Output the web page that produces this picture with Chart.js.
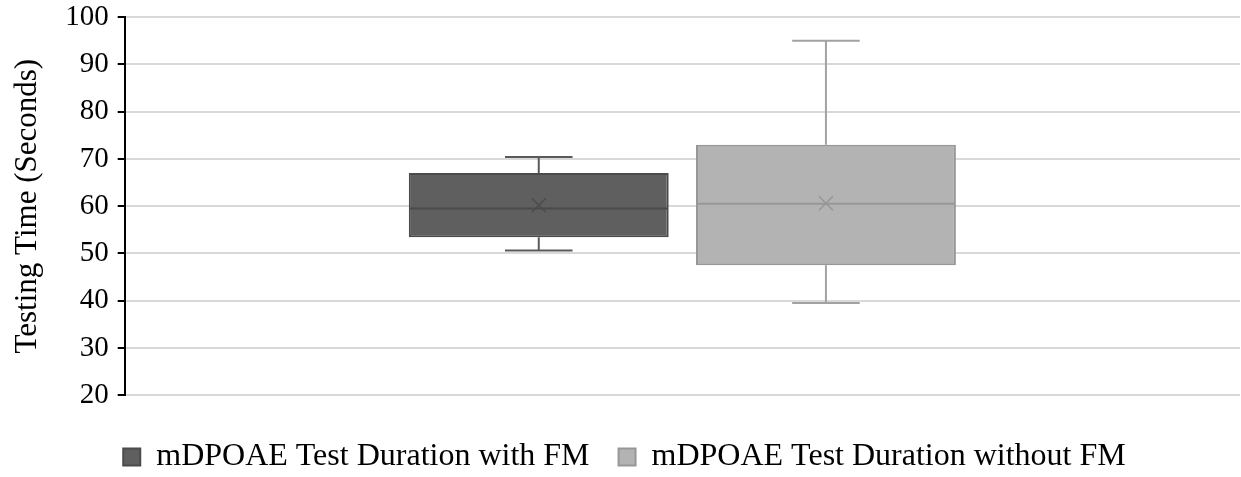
<!DOCTYPE html>
<html>
<head>
<meta charset="utf-8">
<script src="https://cdn.jsdelivr.net/npm/chart.js@4.4.1/dist/chart.umd.min.js"></script>
<style>
  html, body { margin: 0; padding: 0; background: #fff; }
  #wrap { width: 1241px; height: 477px; }
</style>
</head>
<body>
<div id="wrap"><canvas id="chart"></canvas></div>
<script>
// values
const seriesNames = ["mDPOAE Test Duration with FM", "mDPOAE Test Duration without FM"];
const minValues = [50.6, 39.5];
const q1Values = [53.4, 47.5];
const medianValues = [59.5, 60.5];
const q3Values = [67.0, 73.0];
const maxValues = [70.4, 95.0];
const meanValues = [60.2, 60.6];
const yTicks = [20, 30, 40, 50, 60, 70, 80, 90, 100];

const fillColors = ["#5f5f5f", "#b3b3b3"];
const edgeColors = ["#4b4b4b", "#979797"];
const whiskerColors = ["#5a5a5a", "#a2a2a2"];

const serif = "'Liberation Serif', 'Times New Roman', serif";

// whiskers, median and mean marker on top of the floating bars
const boxPlotExtras = {
    id: "boxPlotExtras",
    afterDatasetsDraw(chart) {
        const ctx = chart.ctx;
        const y = chart.scales.y;
        chart.data.datasets.forEach(function(ds, i) {
            const bar = chart.getDatasetMeta(i).data[0];
            if (!bar) return;
            const cx = bar.x;
            const half = bar.width / 2;
            const cap = bar.width * 0.13;
            const yMin = y.getPixelForValue(minValues[i]);
            const yMax = y.getPixelForValue(maxValues[i]);
            const yQ1 = y.getPixelForValue(q1Values[i]);
            const yQ3 = y.getPixelForValue(q3Values[i]);
            const yMed = y.getPixelForValue(medianValues[i]);
            const yMean = y.getPixelForValue(meanValues[i]);

            ctx.save();
            ctx.lineWidth = 2;
            ctx.strokeStyle = whiskerColors[i];
            ctx.beginPath();
            ctx.moveTo(cx, yQ3); ctx.lineTo(cx, yMax);
            ctx.moveTo(cx - cap, yMax); ctx.lineTo(cx + cap, yMax);
            ctx.moveTo(cx, yQ1); ctx.lineTo(cx, yMin);
            ctx.moveTo(cx - cap, yMin); ctx.lineTo(cx + cap, yMin);
            ctx.stroke();

            ctx.strokeStyle = edgeColors[i];
            ctx.beginPath();
            ctx.moveTo(cx - half + 1, yMed); ctx.lineTo(cx + half - 1, yMed);
            ctx.stroke();

            const m = 7;
            ctx.lineWidth = 1.5;
            ctx.beginPath();
            ctx.moveTo(cx - m, yMean - m); ctx.lineTo(cx + m, yMean + m);
            ctx.moveTo(cx - m, yMean + m); ctx.lineTo(cx + m, yMean - m);
            ctx.stroke();
            ctx.restore();
        });
    }
};

const datasets = seriesNames.map(function(name, i) {
    return {
        label: name,
        data: [[q1Values[i], q3Values[i]]],
        backgroundColor: fillColors[i],
        borderColor: edgeColors[i],
        borderWidth: 2,
        borderSkipped: false,
        categoryPercentage: 0.515,
        barPercentage: 0.905
    };
});

new Chart(document.getElementById("chart"), {
    type: "bar",
    data: { labels: [""], datasets: datasets },
    plugins: [boxPlotExtras],
    options: {
        responsive: true,
        maintainAspectRatio: false,
        animation: false,
        layout: { padding: { top: 0, right: 1, left: 9, bottom: -6 } },
        plugins: {
            tooltip: { enabled: false },
            legend: {
                position: "bottom",
                labels: {
                    color: "#000",
                    font: { family: serif, size: 32 },
                    boxWidth: 17,
                    boxHeight: 17,
                    padding: 5,
                    generateLabels: function(chart) {
                        const items = Chart.defaults.plugins.legend.labels.generateLabels(chart);
                        // extra room between the two entries
                        items.forEach(function(it, i) {
                            if (i < items.length - 1) it.text = it.text + "   ";
                        });
                        return items;
                    }
                }
            }
        },
        scales: {
            x: {
                display: true,
                grid: { display: false, drawTicks: false },
                border: { display: false },
                ticks: { display: false },
                // empty title used as spacer above the legend
                title: { display: true, text: " ", font: { size: 34 }, padding: 0 }
            },
            y: {
                min: 20,
                max: 100,
                afterBuildTicks: function(axis) {
                    axis.ticks = yTicks.map(function(v) { return { value: v }; });
                },
                border: { display: true, color: "#000", width: 2 },
                grid: { color: "#d9d9d9", lineWidth: 2, tickColor: "#000", tickLength: 7, tickWidth: 2 },
                ticks: { color: "#000", font: { family: serif, size: 29, lineHeight: 0.56 }, padding: 9 },
                title: {
                    display: true,
                    text: "Testing Time (Seconds)",
                    color: "#000",
                    font: { family: serif, size: 31 },
                    padding: { top: 0, bottom: 10 }
                }
            }
        }
    }
});
</script>
</body>
</html>
